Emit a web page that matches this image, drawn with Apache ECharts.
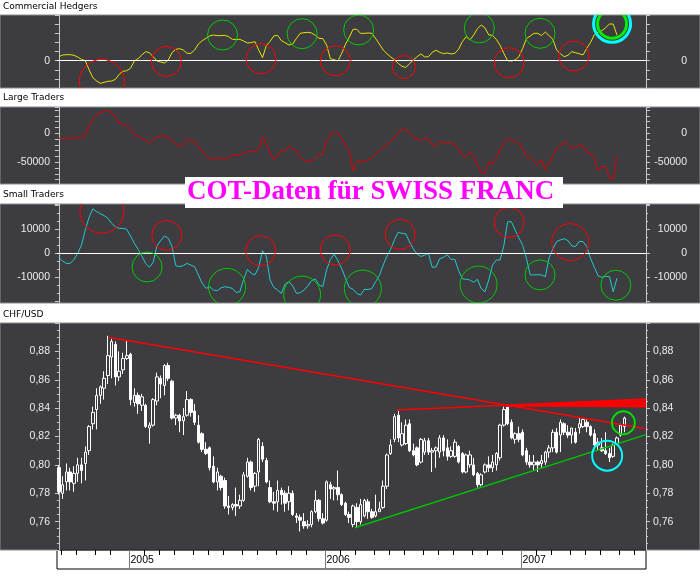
<!DOCTYPE html>
<html><head><meta charset="utf-8">
<script src="https://cdn.jsdelivr.net/npm/echarts@6/dist/echarts.min.js"></script>
<style>html,body{margin:0;padding:0;background:#fff}#c{width:700px;height:576px}</style>
</head><body><div id="c"></div>
<script>
// ---------- DATA (weekly, bar index 0 = week ending Fri 2004-08-27) ----------
const firstBarFriday = '2004-08-27';

const chfOpen = [0.798,0.780,0.788,0.795,0.787,0.794,0.800,0.801,0.810,0.829, 0.839,0.849,0.854,0.863,0.876,0.885,0.862,0.867,0.875,0.878, 0.844,0.849,0.842,0.842,0.826,0.828,0.845,0.861,0.856,0.870, 0.859,0.833,0.835,0.831,0.835,0.846,0.838,0.828,0.822,0.811, 0.812,0.799,0.788,0.792,0.789,0.771,0.770,0.772,0.771,0.775, 0.792,0.802,0.785,0.795,0.813,0.803,0.784,0.774,0.774,0.782, 0.780,0.774,0.780,0.764,0.763,0.760,0.757,0.758,0.767,0.775, 0.762,0.761,0.786,0.783,0.784,0.779,0.773,0.765,0.758,0.770, 0.760,0.764,0.774,0.767,0.764,0.767,0.770,0.785,0.808,0.818, 0.835,0.814,0.815,0.829,0.810,0.812,0.802,0.809,0.817,0.809, 0.810,0.809,0.819,0.812,0.806,0.806,0.813,0.808,0.795,0.800, 0.800,0.794,0.786,0.795,0.800,0.798,0.800,0.805,0.828,0.841, 0.830,0.818,0.822,0.823,0.810,0.802,0.800,0.802,0.801,0.802, 0.809,0.812,0.823,0.821,0.829,0.823,0.821,0.823,0.826,0.827, 0.830,0.827,0.822,0.814,0.812,0.810,0.808,0.806,0.815,0.821, 0.827];
const chfClose = [0.781,0.786,0.795,0.788,0.794,0.800,0.796,0.809,0.827,0.837, 0.849,0.855,0.861,0.877,0.887,0.862,0.866,0.875,0.877,0.846, 0.849,0.843,0.848,0.827,0.828,0.846,0.862,0.857,0.870,0.861, 0.833,0.835,0.831,0.834,0.846,0.837,0.830,0.816,0.811,0.808, 0.798,0.788,0.795,0.784,0.771,0.770,0.772,0.771,0.775,0.793, 0.802,0.784,0.794,0.818,0.804,0.788,0.774,0.773,0.782,0.779, 0.773,0.780,0.765,0.763,0.761,0.757,0.758,0.767,0.775,0.762, 0.759,0.788,0.783,0.784,0.779,0.772,0.765,0.763,0.771,0.760, 0.772,0.775,0.767,0.763,0.767,0.769,0.785,0.807,0.814,0.834, 0.819,0.822,0.828,0.810,0.807,0.800,0.818,0.817,0.809,0.810, 0.812,0.819,0.810,0.806,0.810,0.816,0.802,0.795,0.807,0.807, 0.793,0.786,0.793,0.800,0.798,0.802,0.808,0.828,0.839,0.829, 0.819,0.822,0.818,0.807,0.802,0.800,0.802,0.800,0.803,0.809, 0.812,0.823,0.809,0.830,0.823,0.821,0.826,0.816,0.829,0.832, 0.827,0.821,0.814,0.816,0.810,0.808,0.805,0.814,0.819,0.828, 0.833];
const chfLow = [0.779,0.776,0.782,0.782,0.781,0.788,0.787,0.789,0.807,0.825, 0.825,0.843,0.846,0.857,0.861,0.856,0.859,0.864,0.874,0.842, 0.841,0.836,0.838,0.826,0.815,0.827,0.842,0.847,0.849,0.859, 0.832,0.828,0.823,0.821,0.834,0.834,0.828,0.815,0.809,0.807, 0.796,0.787,0.782,0.782,0.769,0.765,0.768,0.764,0.769,0.774, 0.791,0.782,0.781,0.785,0.802,0.787,0.773,0.768,0.767,0.772, 0.767,0.768,0.764,0.759,0.753,0.755,0.755,0.756,0.766,0.760, 0.758,0.760,0.776,0.775,0.775,0.771,0.764,0.759,0.756,0.756, 0.758,0.763,0.762,0.762,0.763,0.767,0.769,0.783,0.807,0.816, 0.816,0.813,0.814,0.809,0.806,0.799,0.801,0.807,0.807,0.795, 0.798,0.805,0.806,0.803,0.805,0.805,0.801,0.794,0.794,0.798, 0.792,0.784,0.785,0.794,0.795,0.795,0.796,0.803,0.827,0.828, 0.818,0.815,0.816,0.806,0.800,0.798,0.796,0.795,0.798,0.800, 0.805,0.809,0.808,0.809,0.821,0.819,0.815,0.815,0.822,0.826, 0.823,0.820,0.813,0.810,0.809,0.807,0.802,0.805,0.814,0.820, 0.823];
const chfHigh = [0.800,0.792,0.801,0.798,0.799,0.805,0.805,0.813,0.828,0.841, 0.854,0.856,0.866,0.891,0.889,0.887,0.880,0.879,0.888,0.879, 0.854,0.851,0.850,0.843,0.830,0.847,0.865,0.863,0.871,0.872, 0.860,0.836,0.836,0.840,0.852,0.847,0.843,0.835,0.823,0.816, 0.813,0.806,0.798,0.793,0.791,0.778,0.773,0.784,0.779,0.795, 0.805,0.803,0.795,0.819,0.816,0.805,0.789,0.781,0.789,0.784, 0.782,0.785,0.782,0.766,0.765,0.766,0.761,0.768,0.782,0.776, 0.766,0.789,0.788,0.785,0.796,0.780,0.774,0.767,0.772,0.773, 0.776,0.776,0.776,0.769,0.779,0.774,0.789,0.808,0.818,0.836, 0.838,0.830,0.832,0.832,0.815,0.813,0.819,0.819,0.819,0.812, 0.813,0.821,0.821,0.818,0.813,0.818,0.814,0.809,0.808,0.810, 0.805,0.795,0.794,0.801,0.806,0.807,0.809,0.829,0.841,0.842, 0.832,0.823,0.827,0.825,0.812,0.807,0.807,0.803,0.807,0.810, 0.814,0.825,0.826,0.832,0.830,0.828,0.826,0.826,0.833,0.833, 0.832,0.828,0.825,0.819,0.819,0.823,0.812,0.815,0.820,0.829, 0.834];

const commercialHedgers = [4300,6200,6500,6500,5800,4000,1400,0,-9900,-18700, -22300,-24900,-23800,-22700,-22300,-20500,-15000,-11700,-11000,-8400, -400,2100,6200,9800,8700,4300,-400,-1500,-2600,700, 8700,12400,13100,11600,8000,8000,11600,18200,21900,24400, 27000,28100,27400,27400,27700,26300,23300,23300,23300,21500, 19300,19700,20800,11600,3200,16400,21100,27000,27700,21900, 19700,17100,18200,24400,29900,30600,31000,30300,27700,24400, 24100,17100,2100,1000,-400,8000,17900,25500,34300,34300, 29900,29900,30300,29900,24100,18200,11600,7600,4000,1000, -3000,-6300,-7400,-3300,700,4300,7300,4000,4300,9100, 11300,9100,7600,8400,7300,8000,12400,20800,26300,22600, 28100,35000,39000,35800,28100,27700,23300,16800,8000,0, -400,700,4300,13500,24100,27000,29900,29900,27400,31400, 27400,23300,11600,7600,4300,5800,9800,8700,7600,6200, 13500,20000,28400,31400,32800,36100,40100,40100,28100];

const largeTraders = [-8600,-8600,-8600,-8600,-8600,-7500,-7500,-4000,13200,25300, 31600,35100,38500,37900,35600,28200,16700,16100,13200,8000, -2300,-5200,-8600,-11500,-16700,-10300,-6300,-4600,-4600,-6300, -12600,-17800,-23000,-19000,-10900,-12100,-14900,-23000,-30500,-37900, -43100,-45400,-43100,-42500,-44300,-42000,-37400,-36800,-37400,-34500, -31600,-31600,-31600,-27000,-5700,-18400,-32800,-44800,-39100,-28700, -30500,-22400,-25300,-29900,-40800,-47100,-48800,-48300,-42000,-36800, -36200,-14400,-2900,2900,600,-8600,-20100,-30500,-64900,-48800, -48800,-47700,-46000,-42000,-36200,-29900,-24100,-20100,-13800,-8600, 1700,6900,8000,1700,-6900,-9800,-12600,-8000,-9800,-19000, -21300,-13200,-17200,-15500,-16700,-20100,-27000,-37400,-41400,-32200, -40200,-54600,-67200,-69000,-49400,-54000,-42000,-28700,-15500,-9200, -11500,-13800,-17200,-27000,-40200,-41400,-48800,-54600,-46000,-63200, -51700,-37400,-26400,-23000,-14400,-18400,-26400,-23600,-21300,-21300, -33300,-33900,-43100,-64900,-56900,-57500,-77600,-79300,-40200];

const smallTraders = [-1700,-3300,-4200,-4200,-2600,0,3500,9700,15000,18500, 17400,16500,15700,14600,12500,11000,10400,10400,10000,7200, 4200,1700,-1100,-4200,-5800,-3800,3100,5300,7200,6300, 2800,-5100,-5600,-5100,-4200,-4900,-5600,-9000,-12500,-14600, -13900,-15300,-15600,-14400,-13900,-14200,-14600,-16300,-16000,-10800, -6700,-8300,-9000,-5800,1100,-1100,-11100,-14200,-15300,-16700, -12800,-11800,-13600,-16700,-16400,-15300,-13600,-11400,-10700,-13200, -13900,-6900,-2500,-300,-3100,-6300,-10400,-14200,-15000,-16700, -17400,-15000,-15100,-14700,-11800,-9200,-4900,-1100,1700,5700, 8800,8300,8100,4700,1800,-300,-1300,-800,0,-5800, -5700,-2200,-1700,-600,-2500,-2500,-7200,-10600,-10800,-11100, -12100,-10800,-14700,-16000,-11100,-4900,-2800,-2800,3200,13100, 13200,9700,6400,3300,-2200,-9000,-9000,-8900,-9000,-9700, -1900,1900,4900,5600,6100,5300,3100,2800,5000,4900, 2800,-2100,-5800,-9400,-10000,-9600,-9700,-16000,-10400];

// circled highs / lows  [bar, value]
const chRedBig = [[11.4, -23200]];
const chRed = [[28.5, -800], [53.6, 2100], [73.3, -100], [119.4, -2300], [136.6, 5100]];
const chRedSmall = [[91.5, -7000]];
const chGreen = [[43.4, 28100], [64.5, 29500], [79.5, 33600], [111.5, 35800], [127.6, 29900]];
const chSignal = [[146.7, 40400]];
const stRedBig = [[11.4, 17500]];
const stRed = [[28.6, 7500], [53.5, 1100], [73.3, 1400], [90.5, 7900], [119.4, 12900]];
const stRedLarge = [[135.6, 4700]];
const stGreen = [[23.4, -5700], [127.6, -9000], [147.7, -13300]];
const stGreenLarge = [[44.6, -14000], [64.5, -17200], [80.6, -14700], [111.3, -13000]];
const chfGreenMark = [[149.7, 0.8297]];
const chfCyanMark = [[145.4, 0.8065]];

// trend lines [bar, price]
const resistanceLine = [[13.1, 0.890], [155.7, 0.8255]];
const supportLine = [[78.5, 0.7557], [155.7, 0.8213]];
const topLine = [[89.6, 0.8387], [155.7, 0.8464]];
const fanStart = [118.4, 0.8417];
const fanEnds = [0.8410, 0.8420, 0.8430, 0.8440, 0.8450, 0.8460];

const monthStarts = ['2004-09-01','2004-10-01','2004-11-01','2004-12-01','2005-01-01','2005-02-01','2005-03-01','2005-04-01','2005-05-01','2005-06-01','2005-07-01','2005-08-01','2005-09-01','2005-10-01','2005-11-01','2005-12-01','2006-01-01','2006-02-01','2006-03-01','2006-04-01','2006-05-01','2006-06-01','2006-07-01','2006-08-01','2006-09-01','2006-10-01','2006-11-01','2006-12-01','2007-01-01','2007-02-01','2007-03-01','2007-04-01','2007-05-01','2007-06-01','2007-07-01','2007-08-01'];

// ---------- CHART ----------
const BG = '#3c3c41';
const AX = '#c8c8c8';
const LBL = '#ececec';
const FONT = '"Liberation Sans", Arial, sans-serif';
const xMin = -0.5, xMax = 155.7;
const DAY = 864e5;
function barPos(d) { return Math.ceil((Date.parse(d) - Date.parse(firstBarFriday)) / (7 * DAY)) - 0.5; }

const grids = [
  {top: 15, height: 73}, {top: 107, height: 77}, {top: 204, height: 99}, {top: 323, height: 227}
];

function yAxes(gi, min, max, step, fmt, minorSplit) {
  const base = {
    type: 'value', gridIndex: gi, min: min, max: max, minInterval: step, maxInterval: step,
    axisLine: {show: true, lineStyle: {color: AX, width: 1}},
    axisTick: {show: true, length: 4, lineStyle: {color: AX}},
    minorTick: {show: !!minorSplit, splitNumber: minorSplit || 5, length: 2, lineStyle: {color: AX}},
    splitLine: {show: false},
    axisLabel: {color: LBL, fontSize: 10.5, fontFamily: FONT, margin: 7, formatter: fmt, showMinLabel: true, showMaxLabel: true}
  };
  const left = Object.assign({}, base, {position: 'left'});
  const right = Object.assign({}, base, {position: 'right',
    axisLabel: Object.assign({}, base.axisLabel, gi === 3 ? {align: 'left', margin: 7} : {align: 'right', margin: 41})});
  return [left, right];
}

const fmtCH = v => v === 0 ? '0' : '';
const fmtLT = v => (v === 0 || v === -50000) ? String(v) : '';
const fmtST = v => (Math.abs(v) <= 10000 && v % 10000 === 0) ? String(v) : '';
const fmtFX = v => (v > 0.745 && v < 0.895) ? v.toFixed(2).replace('.', ',') : '';

const yAxis = [].concat(
  yAxes(0, -30000, 50000, 10000, fmtCH),
  yAxes(1, -87400, 45400, 10000, fmtLT),
  yAxes(2, -20700, 20550, 10000, fmtST, 3),
  yAxes(3, 0.74, 0.90, 0.02, fmtFX, 4),
  [{type: 'value', gridIndex: 4, min: 0, max: 1, show: false}]
);

const xAxis = [0,1,2,3,4].map(i => ({type: 'value', gridIndex: i, min: xMin, max: xMax, show: false}));

// ring markers, clipped to their panel
function circles(xi, yi, data, size, color, width) {
  return {type: 'custom', xAxisIndex: xi, yAxisIndex: yi, data: data, clip: true, silent: true, z: 5,
    renderItem: function (params, api) {
      const c = api.coord([api.value(0), api.value(1)]);
      return {type: 'circle', shape: {cx: c[0], cy: c[1], r: size / 2},
        style: {fill: 'none', stroke: color, lineWidth: width || 1}};
    }};
}
function trend(data, color, width) {
  return {type: 'line', xAxisIndex: 3, yAxisIndex: 6, data: data, showSymbol: false, silent: true,
    lineStyle: {color: color, width: width || 1.5}, z: 4};
}
const zeroLine = {silent: true, symbol: ['none', 'none'], label: {show: false},
  lineStyle: {color: '#ffffff', type: 'solid', width: 1}, data: [{yAxis: 0}]};

const series = [
  {type: 'line', xAxisIndex: 0, yAxisIndex: 0, data: commercialHedgers.map((v, i) => [i, v]), showSymbol: false,
    lineStyle: {color: '#e6e600', width: 1}, z: 3, markLine: zeroLine},
  circles(0, 0, chRedBig, 45, '#ff0000'),
  circles(0, 0, chRed, 30, '#ff0000'),
  circles(0, 0, chRedSmall, 23, '#ff0000'),
  circles(0, 0, chGreen, 30, '#00cc00'),
  circles(0, 0, chSignal, 37, '#00ffff', 3),
  circles(0, 0, chSignal, 29, '#00ee00', 3),
  {type: 'line', xAxisIndex: 1, yAxisIndex: 2, data: largeTraders.map((v, i) => [i, v]), showSymbol: false,
    lineStyle: {color: '#e00000', width: 1}, z: 3},
  {type: 'line', xAxisIndex: 2, yAxisIndex: 4, data: smallTraders.map((v, i) => [i, v]), showSymbol: false,
    lineStyle: {color: '#22cccc', width: 1}, z: 3, markLine: zeroLine},
  circles(2, 4, stRedBig, 44, '#ff0000'),
  circles(2, 4, stRed, 30, '#ff0000'),
  circles(2, 4, stRedLarge, 37, '#ff0000'),
  circles(2, 4, stGreen, 30, '#00cc00'),
  circles(2, 4, stGreenLarge, 37, '#00cc00'),
  {type: 'candlestick', xAxisIndex: 3, yAxisIndex: 6,
    data: chfOpen.map((o, i) => [i, o, chfClose[i], chfLow[i], chfHigh[i]]),
    encode: {x: 0, y: [1, 2, 3, 4]}, barWidth: 3, silent: true,
    itemStyle: {color: BG, color0: '#ffffff', borderColor: '#ffffff', borderColor0: '#ffffff', borderColorDoji: '#ffffff', borderWidth: 1}},
  trend(resistanceLine, '#ff0000'),
  trend(supportLine, '#00c000'),
  trend(topLine, '#ff0000'),
].concat(fanEnds.map(v => trend([fanStart, [xMax, v]], '#ff0000', 1.5))).concat([
  circles(3, 6, chfGreenMark, 23, '#00dd00', 2),
  circles(3, 6, chfCyanMark, 30, '#00ffff', 2),
  {type: 'custom', xAxisIndex: 4, yAxisIndex: 8, silent: true, clip: false,
    data: monthStarts.map(d => [barPos(d), d.slice(5, 7) === '01' ? 1 : 0, +d.slice(0, 4)]),
    renderItem: function (params, api) {
      const top = api.coord([api.value(0), 1]);
      const bot = api.coord([api.value(0), 0]);
      const x = Math.round(top[0]) + 0.5;
      if (api.value(1) === 1) {
        return {type: 'group', children: [
          {type: 'line', shape: {x1: x, y1: top[1], x2: x, y2: bot[1]}, style: {stroke: '#7a7a7a', lineWidth: 1}},
          {type: 'text', x: x + 1, y: (top[1] + bot[1]) / 2 + 1,
            style: {text: String(api.value(2)), fill: '#000', font: '10.5px ' + FONT, verticalAlign: 'middle', align: 'left'}}
        ]};
      }
      return {type: 'line', shape: {x1: x, y1: top[1], x2: x, y2: top[1] + 5}, style: {stroke: '#000', lineWidth: 1}};
    }}
]);

const panelLabels = [['Commercial Hedgers', 6.5], ['Large Traders', 98], ['Small Traders', 195], ['CHF/USD', 314.5]];
const graphic = grids.map(g => ({type: 'rect', z: -10, shape: {x: 0, y: g.top, width: 700, height: g.height},
  style: {fill: BG, stroke: '#8c8c8c', lineWidth: 1}}))
  .concat(panelLabels.map(p => ({type: 'text', x: 3, y: p[1], z: 10,
    style: {text: p[0], fill: '#000', font: '9px "DejaVu Sans", sans-serif', verticalAlign: 'middle', align: 'left'}})))
  .concat([
    {type: 'rect', z: 50, shape: {x: 185, y: 177, width: 378, height: 31}, style: {fill: '#ffffff'}},
    {type: 'text', z: 51, x: 187, y: 192.5,
      style: {text: 'COT-Daten für SWISS FRANC', fill: '#ff00ff', font: 'bold 27px "Liberation Serif", "Times New Roman", serif', verticalAlign: 'middle', align: 'left'}}
  ]);

const chart = echarts.init(document.getElementById('c'), null, {renderer: 'canvas'});
chart.setOption({
  animation: false,
  backgroundColor: '#ffffff',
  grid: grids.map(g => ({left: 57, right: 54, top: g.top, height: g.height}))
    .concat([{left: 57, right: 54, top: 550, height: 19, show: true, borderColor: '#000', borderWidth: 1, backgroundColor: 'rgba(0,0,0,0)'}]),
  xAxis: xAxis,
  yAxis: yAxis,
  series: series,
  graphic: graphic
});
</script></body></html>
